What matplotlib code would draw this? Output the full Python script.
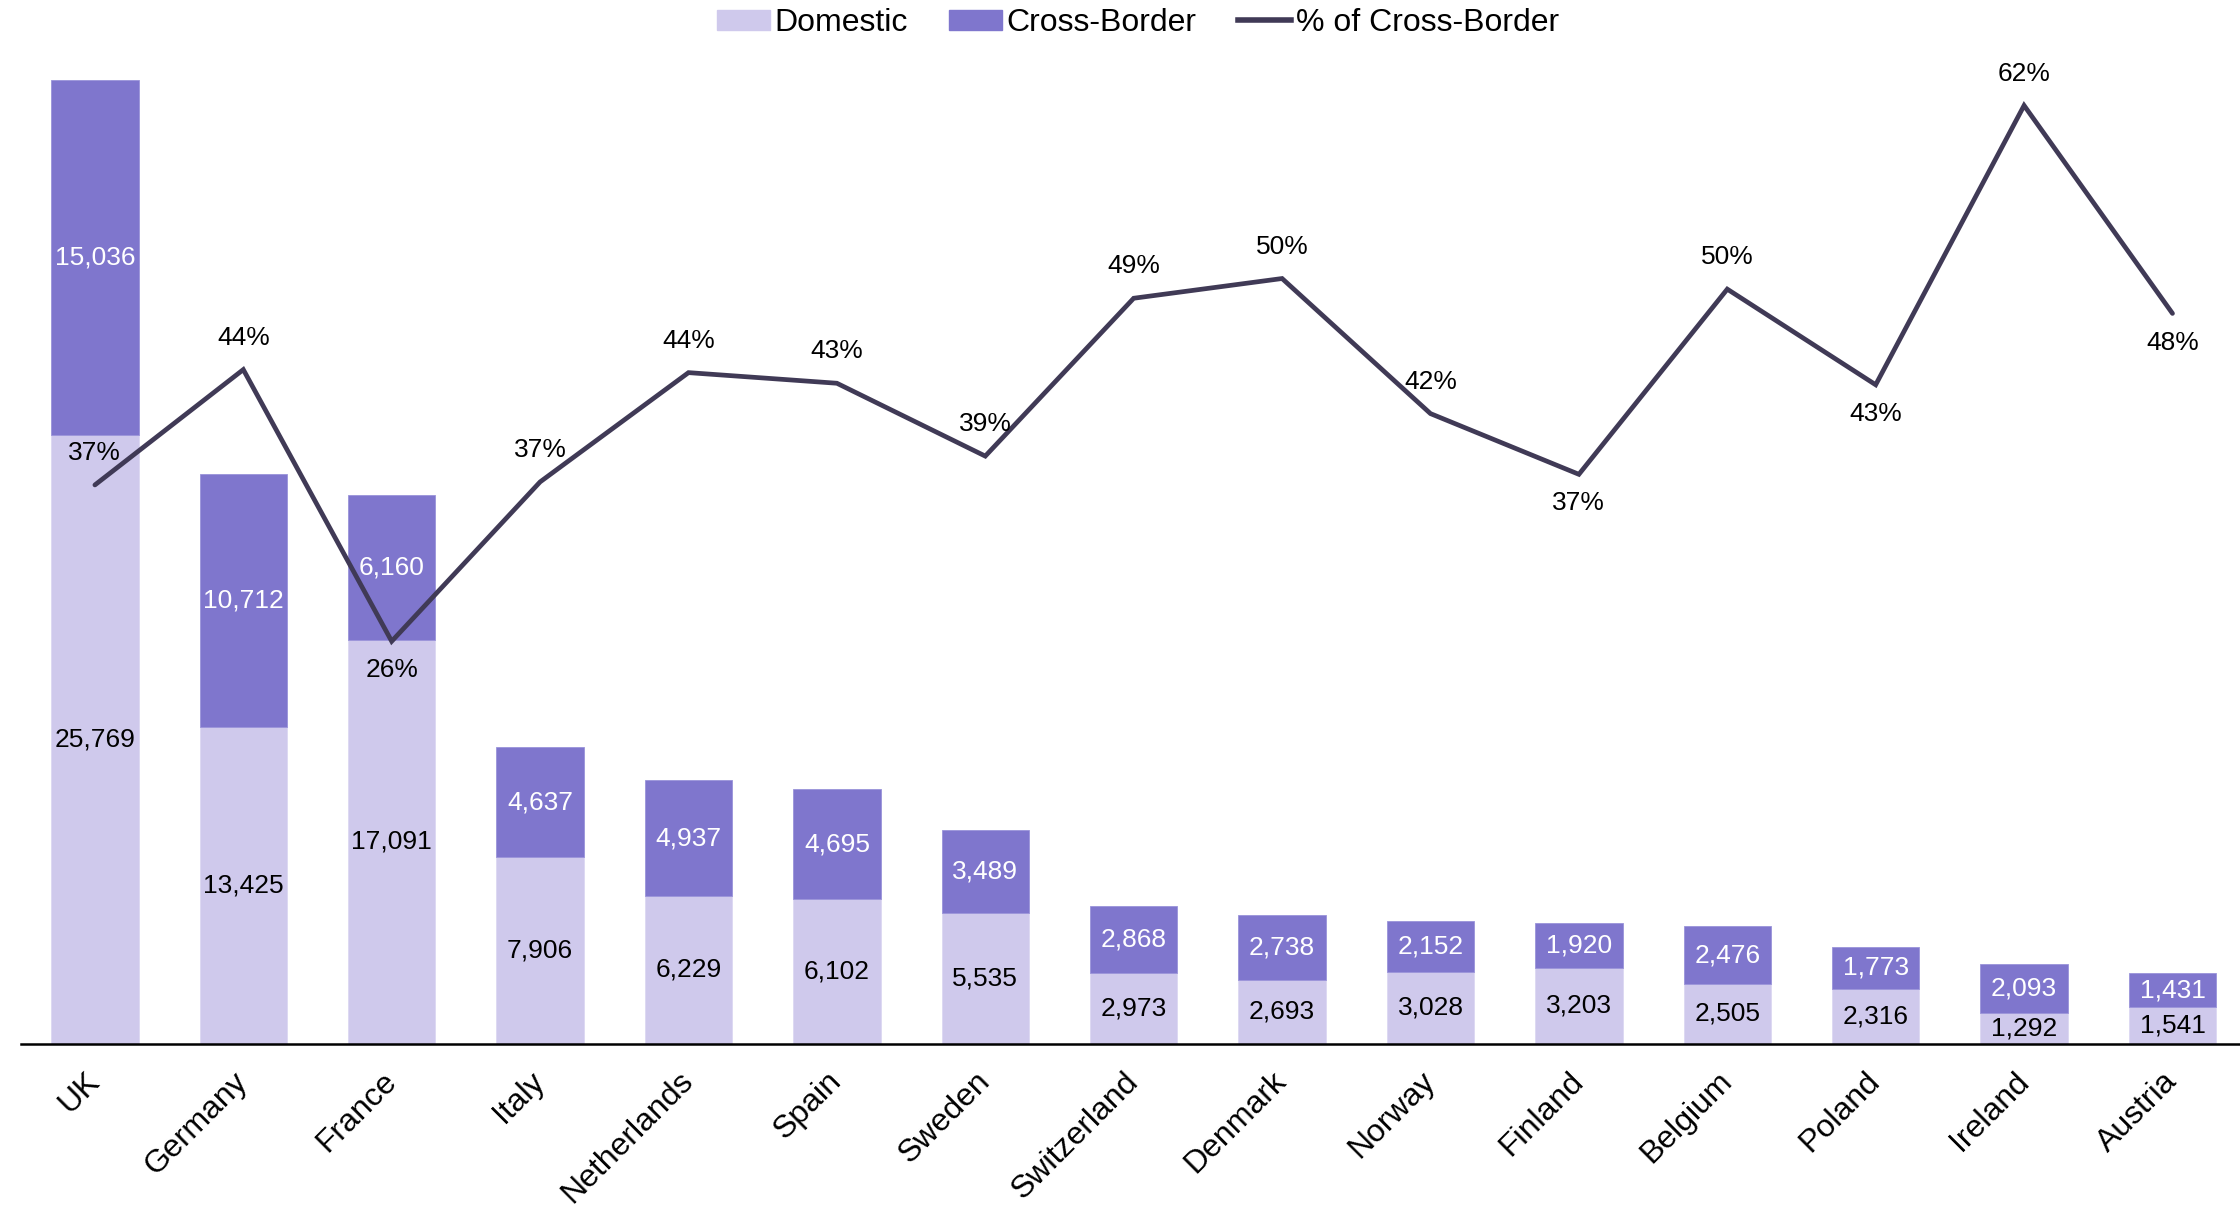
import numpy as np
import matplotlib
matplotlib.use('Agg')
import matplotlib.pyplot as plt
from matplotlib.patches import Patch
from matplotlib.lines import Line2D

plt.rcParams['font.family'] = ['Liberation Sans', 'DejaVu Sans']

countries = ['UK', 'Germany', 'France', 'Italy', 'Netherlands', 'Spain', 'Sweden',
             'Switzerland', 'Denmark', 'Norway', 'Finland', 'Belgium', 'Poland',
             'Ireland', 'Austria']
domestic = [25769, 13425, 17091, 7906, 6229, 6102, 5535, 2973, 2693, 3028, 3203,
            2505, 2316, 1292, 1541]
cross_border = [15036, 10712, 6160, 4637, 4937, 4695, 3489, 2868, 2738, 2152, 1920,
                2476, 1773, 2093, 1431]
pct_cross = [36.8, 44.4, 26.5, 37.0, 44.2, 43.5, 38.7, 49.1, 50.4, 41.5, 37.5,
             49.7, 43.4, 61.8, 48.1]
pct_labels = ['37%', '44%', '26%', '37%', '44%', '43%', '39%', '49%', '50%', '42%',
              '37%', '50%', '43%', '62%', '48%']
# label above (+1) or below (-1) the line point
pct_side = [1, 1, -1, 1, 1, 1, 1, 1, 1, 1, -1, 1, -1, 1, -1]

c_dom = '#CFC9EC'
c_cross = '#7F76CD'
c_line = '#403A56'

fig = plt.figure(figsize=(22.4, 12.05), dpi=100)
ax = fig.add_axes([21 / 2240, 1 - 1043.5 / 1205, 1 - 21 / 2240, 1043.5 / 1205])
x = np.arange(len(countries))

ax.bar(x, domestic, width=0.59, color=c_dom, edgecolor='#DCD8F2', linewidth=0.6)
ax.bar(x, cross_border, width=0.59, bottom=domestic, color=c_cross,
       edgecolor='#9A93DA', linewidth=0.6)

for i in range(len(x)):
    ax.text(x[i], domestic[i] / 2, f'{domestic[i]:,}', ha='center', va='center',
            fontsize=19, color='black')
    ax.text(x[i], domestic[i] + cross_border[i] / 2, f'{cross_border[i]:,}',
            ha='center', va='center', fontsize=19, color='white')

ax.set_xlim(-0.498, 14.455)
ax.set_ylim(0, 44196)
ax.set_yticks([])
for s in ['top', 'right', 'left']:
    ax.spines[s].set_visible(False)
ax.spines['bottom'].set_linewidth(1.8)
ax.set_xticks(x)
ax.set_xticklabels(countries, rotation=45, ha='right', va='center',
                   rotation_mode='anchor', fontsize=23)
ax.tick_params(axis='x', length=0, pad=24)

ax2 = ax.twinx()
ax2.plot(x, pct_cross, color=c_line, linewidth=3.4, solid_capstyle='round',
         solid_joinstyle='miter')
ax2.set_ylim(0, 68.75)
ax2.set_yticks([])
for s in ['top', 'right', 'left', 'bottom']:
    ax2.spines[s].set_visible(False)
for i in range(len(x)):
    off = 23 if pct_side[i] > 0 else -21
    ax2.annotate(pct_labels[i], (x[i], pct_cross[i]), xytext=(0, off),
                 textcoords='offset points', ha='center', va='center', fontsize=19)

handles = [Patch(color=c_dom, label='Domestic'),
           Patch(color=c_cross, label='Cross-Border'),
           Line2D([0], [0], color=c_line, linewidth=4, label='% of Cross-Border')]
fig.legend(handles=handles, loc='center', bbox_to_anchor=(0.508, 1 - 23 / 1205),
           ncol=3, frameon=False, fontsize=23, handlelength=1.65,
           handletextpad=0.15, columnspacing=1.3, handleheight=0.6)

fig.savefig('out.png', dpi=100)
